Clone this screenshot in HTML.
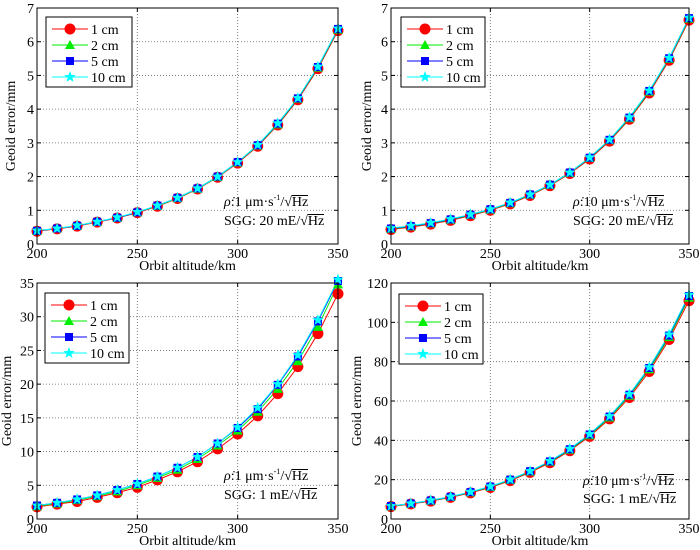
<!DOCTYPE html>
<html><head><meta charset="utf-8"><style>
body{margin:0;background:#fff;}
#wrap{position:relative;width:700px;height:550px;overflow:hidden;font-family:"Liberation Serif",serif;}
svg{position:absolute;left:0;top:0;}
.ann{position:absolute;font-size:14px;white-space:nowrap;color:#000;line-height:16px;height:16px;}
.ov{border-top:1px solid #000;line-height:13px;display:inline-block;}
sup{font-size:8px;line-height:0;vertical-align:6px;}
</style></head><body>
<div id="wrap">
<svg id="svg" width="700" height="550"></svg>
<div class="ann" style="left:224px;top:195px"><i>ρ̇</i>:1 μm·s<sup>-1</sup>/√<span class="ov">Hz</span></div>
<div class="ann" style="left:224px;top:214px">SGG: 20 mE/√<span class="ov">Hz</span></div>
<div class="ann" style="left:573px;top:195px"><i>ρ̇</i>:10 μm·s<sup>-1</sup>/√<span class="ov">Hz</span></div>
<div class="ann" style="left:573px;top:214px">SGG: 20 mE/√<span class="ov">Hz</span></div>
<div class="ann" style="left:224px;top:469px"><i>ρ̇</i>:1 μm·s<sup>-1</sup>/√<span class="ov">Hz</span></div>
<div class="ann" style="left:224px;top:488px">SGG: 1 mE/√<span class="ov">Hz</span></div>
<div class="ann" style="left:583px;top:474px"><i>ρ̇</i>:10 μm·s<sup>-1</sup>/√<span class="ov">Hz</span></div>
<div class="ann" style="left:583px;top:492px">SGG: 1 mE/√<span class="ov">Hz</span></div>
</div>
<script>
const altitudes=[200,210,220,230,240,250,260,270,280,290,300,310,320,330,340,350];
const seriesNames=["1 cm","2 cm","5 cm","10 cm"];
const xTicks=[200,250,300,350];
// panel 1
const p1_1cm=[0.38,0.45,0.53,0.65,0.77,0.93,1.12,1.35,1.63,1.98,2.40,2.90,3.53,4.28,5.20,6.33];
const p1_2cm=[0.39,0.46,0.54,0.66,0.78,0.94,1.13,1.36,1.64,1.99,2.42,2.92,3.55,4.31,5.23,6.36];
const p1_5cm=[0.39,0.46,0.54,0.66,0.78,0.94,1.14,1.37,1.65,2.00,2.43,2.93,3.57,4.32,5.25,6.38];
const p1_10cm=[0.40,0.46,0.55,0.66,0.79,0.95,1.14,1.37,1.65,2.00,2.43,2.94,3.58,4.33,5.26,6.39];
const p1_ticks=[0,1,2,3,4,5,6,7];
// panel 2
const p2_1cm=[0.43,0.50,0.59,0.70,0.84,1.00,1.19,1.44,1.73,2.09,2.52,3.05,3.70,4.48,5.45,6.64];
const p2_2cm=[0.45,0.52,0.61,0.72,0.86,1.02,1.21,1.46,1.75,2.11,2.55,3.08,3.73,4.52,5.49,6.68];
const p2_5cm=[0.46,0.53,0.62,0.73,0.87,1.03,1.22,1.47,1.76,2.12,2.56,3.09,3.75,4.54,5.51,6.70];
const p2_10cm=[0.47,0.54,0.63,0.74,0.88,1.03,1.23,1.47,1.76,2.12,2.57,3.10,3.76,4.55,5.52,6.71];
const p2_ticks=[0,1,2,3,4,5,6,7];
// panel 3
const p3_1cm=[1.8,2.2,2.6,3.2,3.9,4.7,5.8,7.0,8.5,10.4,12.6,15.3,18.6,22.6,27.5,33.4];
const p3_2cm=[1.9,2.3,2.8,3.4,4.1,5.0,6.1,7.3,8.9,10.9,13.1,15.9,19.3,23.4,28.5,34.8];
const p3_5cm=[2.0,2.4,2.9,3.5,4.3,5.2,6.3,7.6,9.2,11.2,13.5,16.3,19.9,24.1,29.3,35.3];
const p3_10cm=[2.0,2.4,2.9,3.5,4.3,5.2,6.3,7.6,9.2,11.2,13.6,16.5,20.0,24.3,29.5,35.5];
const p3_ticks=[0,5,10,15,20,25,30,35];
// panel 4
const p4_1cm=[6.3,7.6,9.1,11.0,13.3,16.0,19.5,23.7,28.6,34.7,42.0,50.9,61.8,75.0,91.3,111.0];
const p4_2cm=[6.5,7.8,9.3,11.2,13.6,16.3,19.8,24.1,29.1,35.2,42.6,51.6,62.7,76.1,92.5,112.5];
const p4_5cm=[6.6,7.9,9.4,11.3,13.7,16.5,20.0,24.3,29.3,35.5,43.0,52.1,63.2,76.8,93.3,113.4];
const p4_10cm=[6.6,7.9,9.5,11.4,13.8,16.6,20.1,24.4,29.5,35.7,43.2,52.3,63.5,77.2,93.8,114.0];
const p4_ticks=[0,20,40,60,80,100,120];

const NS="http://www.w3.org/2000/svg";
const svg=document.getElementById('svg');
const colors=["#ff0000","#00ee00","#0000ff","#00ffff"];
function mk(tag,attrs,parent){const e=document.createElementNS(NS,tag);for(const k in attrs)e.setAttribute(k,attrs[k]);(parent||svg).appendChild(e);return e;}
function marker(g,kind,x,y,c){
  let e;
  if(kind===0){e=mk('circle',{cx:x,cy:y,r:5.5,fill:c},g);}
  else if(kind===1){e=mk('polygon',{points:`${x},${y-5} ${x+5},${y+4} ${x-5},${y+4}`,fill:c},g);}
  else if(kind===2){e=mk('rect',{x:x-4,y:y-4,width:8,height:8,fill:c},g);}
  else{let p=[];for(let i=0;i<10;i++){const r=i%2?2.5:6,a=-Math.PI/2+i*Math.PI/5;p.push((x+r*Math.cos(a)).toFixed(1)+','+(y+r*Math.sin(a)).toFixed(1));}
    e=mk('polygon',{points:p.join(' '),fill:c},g);}
  return e;
}
function panel(id,L,R,T,B,yMax,yTicks,series,leg,yOff){
  const g=mk('g',{});
  
  
  const xs=v=>L+(v-200)/150*(R-L);
  const ys=v=>B-v/yMax*(B-T);
  mk('rect',{x:L,y:T,width:R-L,height:B-T,fill:'#fff'},g);
  xTicks.forEach(t=>{
    if(t>200&&t<350){const l=mk('line',{x1:xs(t),x2:xs(t),y1:T,y2:B,stroke:'#666','stroke-dasharray':'1,2','stroke-width':0.8},g);}
    mk('line',{x1:xs(t),x2:xs(t),y1:B,y2:B-4,stroke:'#000'},g);
    mk('line',{x1:xs(t),x2:xs(t),y1:T,y2:T+4,stroke:'#000'},g);
    const tx=mk('text',{x:xs(t),y:B+14,'font-size':14,'text-anchor':'middle','font-family':'Liberation Serif'},g);tx.textContent=t;
    
  });
  yTicks.forEach(t=>{
    if(t>0&&t<yMax){const l=mk('line',{x1:L,x2:R,y1:ys(t),y2:ys(t),stroke:'#666','stroke-dasharray':'1,2','stroke-width':0.8},g);}
    mk('line',{x1:L,x2:L+4,y1:ys(t),y2:ys(t),stroke:'#000'},g);
    mk('line',{x1:R,x2:R-4,y1:ys(t),y2:ys(t),stroke:'#000'},g);
    const tx=mk('text',{x:L-3,y:ys(t)+5,'font-size':14,'text-anchor':'end','font-family':'Liberation Serif'},g);tx.textContent=t;
    
  });
  series.forEach((s,i)=>{
    const sg=mk('g',{},g);
    
    
    mk('polyline',{points:s.map((v,j)=>xs(altitudes[j])+','+ys(v)).join(' '),fill:'none',stroke:colors[i],'stroke-width':1},sg);
  });
  series.forEach((s,i)=>{
    s.forEach((v,j)=>{const m=marker(g,i,xs(altitudes[j]),ys(v),colors[i]);
      });
  });
  mk('rect',{x:L,y:T,width:R-L,height:B-T,fill:'none',stroke:'#000','stroke-width':1},g);
  const lg=mk('g',{},g);
  
  
  mk('rect',{x:leg[0],y:leg[1],width:leg[2],height:70,fill:'#fff',stroke:'#000','stroke-width':1},lg);
  seriesNames.forEach((n,i)=>{
    const cy=leg[1]+12+i*16;
    const e=mk('g',{},lg);
    
    
    mk('line',{x1:leg[0]+6,x2:leg[0]+42,y1:cy,y2:cy,stroke:colors[i]},e);
    marker(e,i,leg[0]+24,cy,colors[i]);
    const t=mk('text',{x:leg[0]+45,y:cy+5,'font-size':14,'font-family':'Liberation Serif'},e);t.textContent=n;
  });
  const xl=mk('text',{x:(L+R)/2,y:B+26,'font-size':14,'text-anchor':'middle','font-family':'Liberation Serif'},g);
  xl.textContent='Orbit altitude/km';
  
  const yx=L-yOff;
  const yl=mk('text',{x:yx,y:(T+B)/2,'font-size':14,'text-anchor':'middle','font-family':'Liberation Serif',transform:`rotate(-90 ${yx} ${(T+B)/2})`},g);
  yl.textContent='Geoid error/mm';
  
}
panel('panel-top-left',37,338,8,244,7,p1_ticks,[p1_1cm,p1_2cm,p1_5cm,p1_10cm],[46,17,86],22);
panel('panel-top-right',391,689,8,244,7,p2_ticks,[p2_1cm,p2_2cm,p2_5cm,p2_10cm],[401,17,84],20);
panel('panel-bottom-left',37,338,283,519,35,p3_ticks,[p3_1cm,p3_2cm,p3_5cm,p3_10cm],[45,293,84],26);
panel('panel-bottom-right',391,689,283,519,120,p4_ticks,[p4_1cm,p4_2cm,p4_5cm,p4_10cm],[399,294,84],30);
</script>
</body></html>
